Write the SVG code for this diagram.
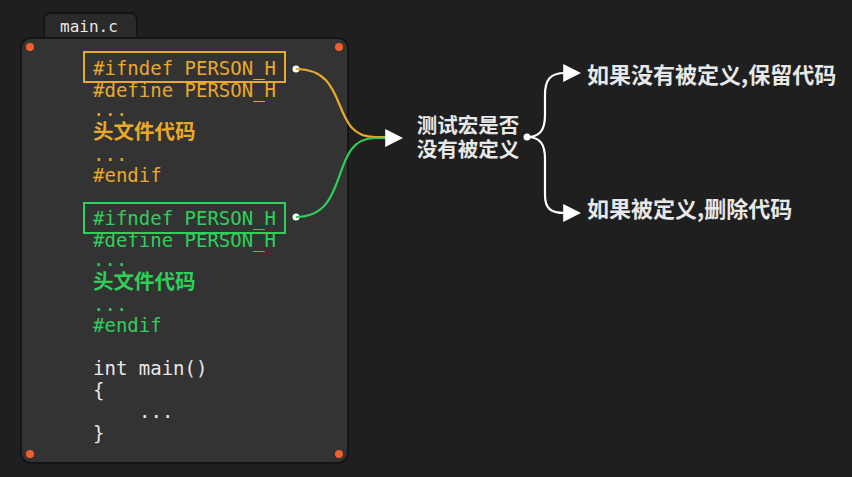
<svg xmlns="http://www.w3.org/2000/svg" width="852" height="477" viewBox="0 0 852 477">
<style>
.code{font-family:"DejaVu Sans Mono","Liberation Mono",monospace;font-size:19px}
.cjk{font-family:"Noto Sans CJK SC",sans-serif;font-weight:bold}
.or{fill:#e9a92a}
.gr{fill:#2fcf5c}
.wh{fill:#e8e8e8}
.dot{fill:#f0602a}
.pt{fill:#ffffff}
.conn{fill:none;stroke-width:2.2}
</style>
<defs>
<marker id="arr" viewBox="0 0 10 10" refX="1" refY="5" markerWidth="18" markerHeight="18" markerUnits="userSpaceOnUse" orient="auto">
<path d="M0,0 L10,5 L0,10 Z" fill="#ffffff"/>
</marker>
</defs>
<rect width="852" height="477" fill="#1f1f1f"/>
<g id="tab">
<path d="M44,38 L44,20 Q44,13 51,13 L130,13 Q137,13 137,20 L137,38 Z" fill="#2a2a2a" stroke="#141414" stroke-width="2"/>
<text x="60" y="32" class="code wh" style="font-size:16px">main.c</text>
</g>
<g id="panel">
<rect x="21" y="38" width="327" height="425" rx="10" fill="#333333" stroke="#151515" stroke-width="2"/>
<circle cx="30" cy="47" r="4" class="dot"/>
<circle cx="339" cy="47" r="4" class="dot"/>
<circle cx="30" cy="454" r="4" class="dot"/>
<circle cx="339" cy="454" r="4" class="dot"/>
</g>
<g id="block1">
<rect x="84" y="52" width="201" height="30" fill="none" stroke="#e9a92a" stroke-width="2"/>
<text x="93" y="75" class="code or">#ifndef PERSON_H</text>
<text x="93" y="97" class="code or">#define PERSON_H</text>
<text x="93" y="116" class="code or">...</text>
<text x="93" y="139" class="cjk or" style="font-size:20.5px">头文件代码</text>
<text x="93" y="161" class="code or">...</text>
<text x="93" y="182" class="code or">#endif</text>
<circle cx="296" cy="69" r="3.5" class="pt"/>
</g>
<g id="block2">
<rect x="84" y="203" width="201" height="30" fill="none" stroke="#2fcf5c" stroke-width="2"/>
<text x="93" y="225" class="code gr">#ifndef PERSON_H</text>
<text x="93" y="247" class="code gr">#define PERSON_H</text>
<text x="93" y="266" class="code gr">...</text>
<text x="93" y="289" class="cjk gr" style="font-size:20.5px">头文件代码</text>
<text x="93" y="311" class="code gr">...</text>
<text x="93" y="332" class="code gr">#endif</text>
<circle cx="296" cy="217" r="3.5" class="pt"/>
</g>
<g id="mainfn">
<text x="93" y="375" class="code wh">int main()</text>
<text x="93" y="397" class="code wh">{</text>
<text x="139" y="418" class="code wh">...</text>
<text x="93" y="440" class="code wh">}</text>
</g>
<g id="test">
<text x="468" y="133" text-anchor="middle" class="cjk wh" style="font-size:20.5px">测试宏是否</text>
<text x="468" y="157" text-anchor="middle" class="cjk wh" style="font-size:20.5px">没有被定义</text>
<circle cx="527" cy="137" r="3.5" class="pt"/>
</g>
<g id="keep">
<text x="587" y="83" class="cjk wh" style="font-size:22px">如果没有被定义,保留代码</text>
</g>
<g id="remove">
<text x="587" y="217" class="cjk wh" style="font-size:22px">如果被定义,删除代码</text>
</g>
<g id="connectors">
<path class="conn" stroke="#e9a92a" d="M296,69 C352,69 328,137 375,137 L387,137"/>
<path class="conn" stroke="#2fcf5c" d="M296,217 C352,217 328,138 375,138 L387,138" marker-end="url(#arr)"/>
<path class="conn" stroke="#ffffff" d="M527,137 C540,137 545,130 545,115 L545,95 C545,80 550,73 565,73" marker-end="url(#arr)"/>
<path class="conn" stroke="#ffffff" d="M527,137 C540,137 545,144 545,159 L545,195 C545,208 550,213 565,213" marker-end="url(#arr)"/>
</g>
</svg>
